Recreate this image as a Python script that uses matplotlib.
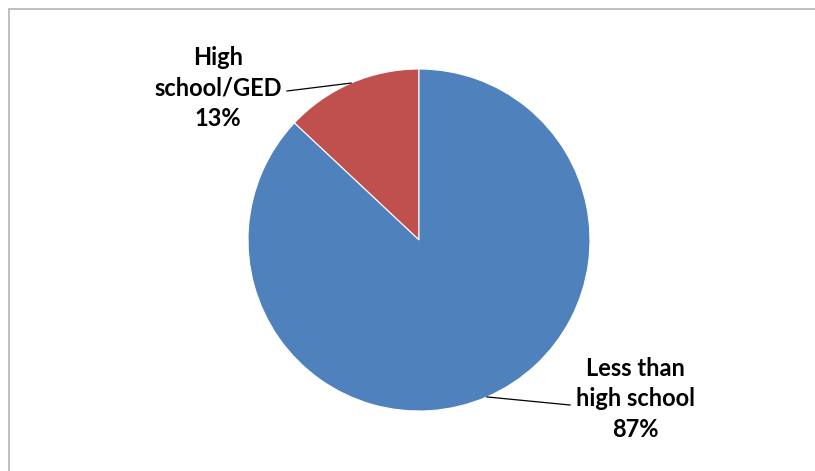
import numpy as np
import matplotlib.pyplot as plt
from matplotlib.patches import Rectangle

labels = ['High\nschool/GED\n13%', 'Less than\nhigh school\n87%']
shares = [13, 87]
colors = ['#C0504D', '#4F81BD']

W, H = 815, 471
fig = plt.figure(figsize=(W / 100, H / 100), dpi=100)
ax = fig.add_axes([0, 0, 1, 1])

cx, cy, r = 419, H - 240, 171
wedges, _ = ax.pie(shares, colors=colors, startangle=90, counterclock=True,
                   center=(cx, cy), radius=r,
                   wedgeprops=dict(edgecolor='white', linewidth=0.8))
ax.set_xlim(0, W)
ax.set_ylim(0, H)
ax.set_aspect('equal')
ax.axis('off')

# label centres and where each leader line meets its text
text_pos = [(218, H - 88), (635, H - 399)]
line_end = [(287, H - 91), (570, H - 405)]

for w, lab, (tx, ty), (ex, ey) in zip(wedges, labels, text_pos, line_end):
    mid = np.deg2rad((w.theta1 + w.theta2) / 2)
    sx, sy = cx + r * np.cos(mid), cy + r * np.sin(mid)
    ax.plot([sx, ex], [sy, ey], color='black', lw=0.9)
    ax.text(tx, ty, lab, ha='center', va='center', fontsize=17,
            fontweight='bold', family='Lato', linespacing=1.42, color='black')

# only the left and top of the chart frame fall inside the picture
ax.add_patch(Rectangle((9, -10), W + 10, H - 9 + 10, fill=False,
                       edgecolor='#b4b4b4', lw=1.2, clip_on=False))

fig.savefig('out.png', dpi=100)
